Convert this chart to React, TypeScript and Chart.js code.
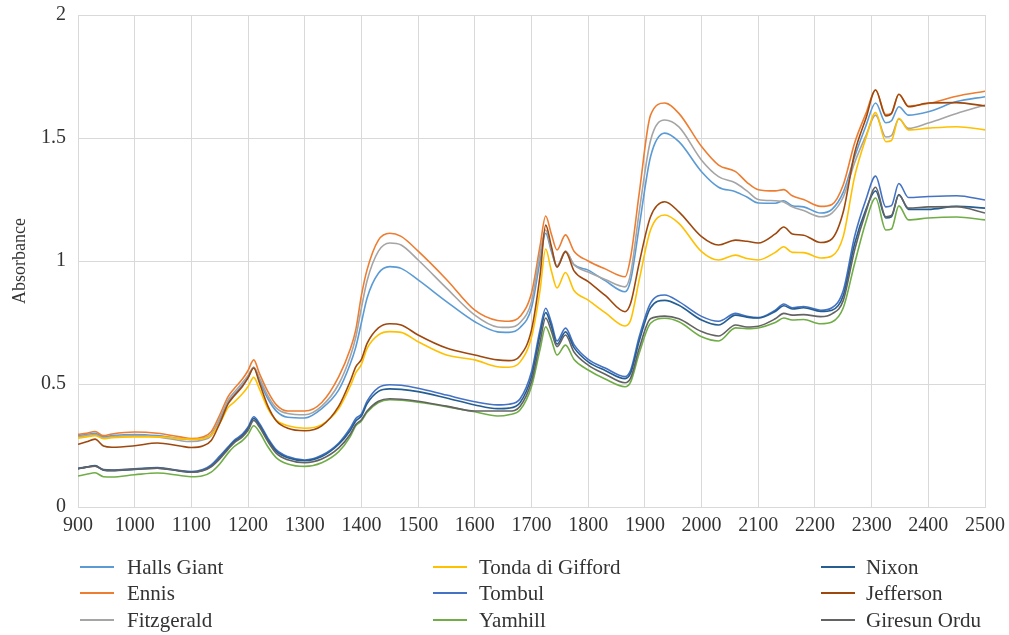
import React, { useEffect, useRef } from "react";
import { Chart, registerables } from "chart.js";

Chart.register(...registerables);

const wavelengths = [
  900, 915, 930, 945, 960, 1000, 1040, 1080, 1100, 1120,
  1135, 1150, 1165, 1175, 1190, 1200, 1210, 1220, 1235, 1250,
  1270, 1300, 1330, 1360, 1380, 1390, 1400, 1410, 1430, 1450,
  1470, 1500, 1550, 1600, 1640, 1660, 1680, 1700, 1715, 1725,
  1735, 1745, 1760, 1775, 1800, 1830, 1865, 1875, 1890, 1910,
  1935, 1960, 2000, 2030, 2060, 2080, 2100, 2130, 2145, 2160,
  2180, 2210, 2230, 2250, 2270, 2290, 2307, 2325, 2335, 2348,
  2365, 2400, 2450, 2500,
];

const hallsGiant = [
  0.290, 0.295, 0.300, 0.285, 0.290, 0.295, 0.290, 0.278, 0.275, 0.280,
  0.295, 0.355, 0.425, 0.455, 0.495, 0.528, 0.568, 0.515, 0.440, 0.390,
  0.365, 0.362, 0.400, 0.476, 0.580, 0.650, 0.750, 0.850, 0.950, 0.977,
  0.970, 0.923, 0.835, 0.753, 0.712, 0.710, 0.730, 0.810, 1.000, 1.113,
  1.040, 0.977, 1.038, 0.985, 0.963, 0.920, 0.875, 0.923, 1.140, 1.424,
  1.520, 1.485, 1.363, 1.300, 1.282, 1.260, 1.236, 1.235, 1.245, 1.225,
  1.220, 1.195, 1.210, 1.280, 1.424, 1.550, 1.642, 1.562, 1.570, 1.627,
  1.593, 1.607, 1.648, 1.668,
];

const ennis = [
  0.295, 0.300, 0.307, 0.290, 0.297, 0.305, 0.300, 0.285, 0.278, 0.285,
  0.306, 0.374, 0.450, 0.480, 0.520, 0.555, 0.598, 0.543, 0.469, 0.415,
  0.390, 0.390, 0.425, 0.530, 0.640, 0.720, 0.860, 0.965, 1.085, 1.113,
  1.100, 1.040, 0.925, 0.800, 0.758, 0.755, 0.775, 0.870, 1.060, 1.183,
  1.110, 1.045, 1.106, 1.040, 1.000, 0.968, 0.936, 1.017, 1.275, 1.593,
  1.642, 1.600, 1.465, 1.390, 1.363, 1.320, 1.290, 1.285, 1.290, 1.265,
  1.250, 1.222, 1.230, 1.310, 1.480, 1.600, 1.695, 1.595, 1.600, 1.678,
  1.630, 1.640, 1.670, 1.690,
];

const fitzgerald = [
  0.285, 0.290, 0.295, 0.280, 0.285, 0.290, 0.285, 0.270, 0.266, 0.272,
  0.290, 0.360, 0.435, 0.465, 0.505, 0.535, 0.568, 0.525, 0.452, 0.402,
  0.380, 0.375, 0.410, 0.500, 0.610, 0.690, 0.810, 0.920, 1.040, 1.073,
  1.065, 1.004, 0.890, 0.780, 0.732, 0.730, 0.750, 0.835, 1.030, 1.126,
  1.050, 0.980, 1.040, 0.985, 0.955, 0.925, 0.895, 0.950, 1.200, 1.490,
  1.573, 1.545, 1.410, 1.343, 1.317, 1.285, 1.250, 1.245, 1.240, 1.220,
  1.205, 1.180, 1.195, 1.260, 1.400, 1.510, 1.593, 1.504, 1.510, 1.577,
  1.539, 1.561, 1.600, 1.634,
];

const tondaDiGifford = [
  0.280, 0.285, 0.290, 0.278, 0.282, 0.285, 0.285, 0.278, 0.275, 0.278,
  0.292, 0.340, 0.405, 0.425, 0.460, 0.490, 0.527, 0.480, 0.400, 0.352,
  0.330, 0.320, 0.335, 0.400, 0.490, 0.545, 0.580, 0.645, 0.700, 0.713,
  0.710, 0.672, 0.618, 0.598, 0.570, 0.568, 0.590, 0.690, 0.880, 1.049,
  0.960, 0.890, 0.953, 0.880, 0.841, 0.790, 0.736, 0.760, 0.923, 1.126,
  1.187, 1.153, 1.038, 1.004, 1.024, 1.010, 1.004, 1.035, 1.058, 1.035,
  1.034, 1.012, 1.020, 1.100, 1.343, 1.500, 1.603, 1.485, 1.490, 1.580,
  1.533, 1.540, 1.546, 1.533,
];

const tombul = [
  0.157, 0.163, 0.168, 0.152, 0.150, 0.155, 0.160, 0.148, 0.144, 0.152,
  0.171, 0.207, 0.245, 0.270, 0.296, 0.325, 0.367, 0.340, 0.280, 0.232,
  0.205, 0.191, 0.210, 0.260, 0.320, 0.360, 0.378, 0.430, 0.485, 0.497,
  0.495, 0.483, 0.455, 0.428, 0.415, 0.418, 0.440, 0.550, 0.720, 0.808,
  0.750, 0.675, 0.727, 0.660, 0.600, 0.565, 0.530, 0.557, 0.692, 0.829,
  0.862, 0.835, 0.775, 0.755, 0.787, 0.775, 0.770, 0.800, 0.825, 0.810,
  0.815, 0.800, 0.810, 0.880, 1.100, 1.250, 1.345, 1.220, 1.225, 1.315,
  1.258, 1.262, 1.265, 1.248,
];

const yamhill = [
  0.126, 0.133, 0.139, 0.123, 0.122, 0.131, 0.138, 0.128, 0.123, 0.127,
  0.142, 0.175, 0.220, 0.245, 0.270, 0.295, 0.330, 0.305, 0.245, 0.200,
  0.175, 0.165, 0.180, 0.225, 0.285, 0.330, 0.350, 0.385, 0.425, 0.436,
  0.434, 0.426, 0.408, 0.387, 0.370, 0.375, 0.395, 0.490, 0.640, 0.733,
  0.680, 0.618, 0.658, 0.600, 0.557, 0.520, 0.489, 0.509, 0.625, 0.747,
  0.767, 0.753, 0.692, 0.675, 0.728, 0.725, 0.728, 0.750, 0.768, 0.760,
  0.762, 0.745, 0.752, 0.810, 0.990, 1.160, 1.256, 1.126, 1.130, 1.224,
  1.167, 1.175, 1.179, 1.167,
];

const nixon = [
  0.155, 0.162, 0.167, 0.150, 0.148, 0.153, 0.158, 0.146, 0.142, 0.148,
  0.166, 0.200, 0.240, 0.265, 0.290, 0.318, 0.360, 0.333, 0.273, 0.226,
  0.200, 0.188, 0.205, 0.255, 0.310, 0.350, 0.370, 0.420, 0.470, 0.480,
  0.478, 0.469, 0.443, 0.415, 0.400, 0.402, 0.425, 0.530, 0.700, 0.790,
  0.735, 0.662, 0.712, 0.648, 0.590, 0.555, 0.522, 0.545, 0.675, 0.810,
  0.840, 0.820, 0.760, 0.740, 0.780, 0.772, 0.768, 0.795, 0.818, 0.805,
  0.810, 0.795, 0.800, 0.860, 1.070, 1.210, 1.285, 1.175, 1.180, 1.270,
  1.210, 1.210, 1.222, 1.215,
];

const jefferson = [
  0.255, 0.265, 0.276, 0.248, 0.243, 0.249, 0.260, 0.248, 0.242, 0.248,
  0.270, 0.340, 0.420, 0.450, 0.490, 0.525, 0.565, 0.505, 0.410, 0.350,
  0.320, 0.310, 0.330, 0.410, 0.510, 0.570, 0.600, 0.665, 0.728, 0.745,
  0.740, 0.699, 0.646, 0.618, 0.598, 0.595, 0.615, 0.720, 0.940, 1.146,
  1.060, 0.975, 1.038, 0.960, 0.916, 0.860, 0.794, 0.829, 0.992, 1.180,
  1.241, 1.200, 1.099, 1.065, 1.085, 1.080, 1.073, 1.110, 1.138, 1.110,
  1.105, 1.075, 1.090, 1.200, 1.439, 1.580, 1.695, 1.590, 1.600, 1.678,
  1.627, 1.642, 1.644, 1.630,
];

const giresunOrdu = [
  0.156, 0.162, 0.166, 0.151, 0.149, 0.154, 0.158, 0.147, 0.141, 0.147,
  0.163, 0.195, 0.235, 0.260, 0.285, 0.312, 0.352, 0.325, 0.266, 0.218,
  0.192, 0.180, 0.195, 0.240, 0.295, 0.335, 0.355, 0.390, 0.430, 0.440,
  0.438, 0.430, 0.410, 0.390, 0.390, 0.390, 0.410, 0.510, 0.670, 0.768,
  0.715, 0.652, 0.699, 0.630, 0.577, 0.540, 0.505, 0.525, 0.645, 0.765,
  0.776, 0.765, 0.713, 0.695, 0.740, 0.732, 0.735, 0.765, 0.787, 0.780,
  0.782, 0.774, 0.785, 0.840, 1.045, 1.200, 1.300, 1.180, 1.185, 1.268,
  1.215, 1.220, 1.221, 1.195,
];

const seriesNames = [
  "Halls Giant", "Ennis", "Fitzgerald",
  "Tonda di Gifford", "Tombul", "Yamhill",
  "Nixon", "Jefferson", "Giresun Ordu",
];
const seriesValues = [
  hallsGiant, ennis, fitzgerald,
  tondaDiGifford, tombul, yamhill,
  nixon, jefferson, giresunOrdu,
];
const seriesColors = [
  "#5B9BD5", "#ED7D31", "#A5A5A5",
  "#FFC000", "#4472C4", "#70AD47",
  "#255E91", "#9E480E", "#636363",
];

const xMin = 900;
const xMax = 2500;
const xStep = 100;
const yMin = 0;
const yMax = 2;
const yStep = 0.5;
const yTitle = "Absorbance";

const FONT = '"Liberation Serif", "DejaVu Serif", serif';
const TEXT = "#333333";

const legendCols = [
  { lineLeft: 80, textLeft: 127 },
  { lineLeft: 433, textLeft: 479 },
  { lineLeft: 821, textLeft: 866 },
];
const legendRows = [567, 593, 620];

export default function App() {
  const ref = useRef<HTMLCanvasElement>(null);

  useEffect(() => {
    const n = seriesNames.length;
    const chart = new Chart(ref.current as HTMLCanvasElement, {
      type: "line",
      data: {
        datasets: seriesNames.map((name, i) => ({
          label: name,
          data: seriesValues[i].map((v, j) => ({ x: wavelengths[j], y: v })),
          borderColor: seriesColors[i],
          backgroundColor: seriesColors[i],
          borderWidth: 1.6,
          pointRadius: 0,
          cubicInterpolationMode: "monotone",
          fill: false,
          order: n - i,
        })),
      },
      options: {
        animation: false,
        responsive: false,
        events: [],
        layout: { padding: { left: 0, right: 24, top: 15, bottom: 98 } },
        plugins: { legend: { display: false }, tooltip: { enabled: false } },
        scales: {
          x: {
            type: "linear",
            min: xMin,
            max: xMax,
            ticks: {
              stepSize: xStep,
              padding: 7,
              color: TEXT,
              font: { family: FONT, size: 20 },
              maxRotation: 0,
              autoSkip: false,
              callback: (v: any) => String(v),
            },
            grid: { color: "#d9d9d9", drawTicks: false, lineWidth: 1 },
            border: { color: "#d9d9d9" },
            afterFit: (s: any) => {
              s.height = 30;
              s.paddingLeft = 0;
              s.paddingRight = 0;
            },
          },
          y: {
            type: "linear",
            min: yMin,
            max: yMax,
            ticks: {
              stepSize: yStep,
              padding: 12,
              color: TEXT,
              font: { family: FONT, size: 20 },
              callback: (v: any) => String(v),
            },
            grid: { color: "#d9d9d9", drawTicks: false, lineWidth: 1 },
            border: { color: "#d9d9d9" },
            title: {
              display: true,
              text: yTitle,
              color: TEXT,
              font: { family: FONT, size: 18 },
              padding: { top: 9, bottom: 0 },
            },
            afterFit: (s: any) => {
              s.width = 78;
              s.paddingTop = 0;
              s.paddingBottom = 0;
            },
          },
        },
      },
    });
    return () => chart.destroy();
  }, []);

  return (
    <div
      style={{
        position: "fixed",
        left: 0,
        top: 0,
        width: 1009,
        height: 635,
        background: "#ffffff",
        fontFamily: FONT,
      }}
    >
      <canvas ref={ref} width={1009} height={635} style={{ display: "block" }} />
      {seriesNames.map((name, i) => {
        const col = legendCols[Math.floor(i / 3)];
        const rowY = legendRows[i % 3];
        return (
          <React.Fragment key={name}>
            <div
              style={{
                position: "absolute",
                left: col.lineLeft,
                top: rowY - 1,
                width: 34,
                height: 2,
                background: seriesColors[i],
              }}
            />
            <div
              style={{
                position: "absolute",
                left: col.textLeft,
                top: rowY - 12,
                height: 24,
                lineHeight: "24px",
                fontSize: 21,
                color: TEXT,
                whiteSpace: "nowrap",
              }}
            >
              {name}
            </div>
          </React.Fragment>
        );
      })}
    </div>
  );
}
